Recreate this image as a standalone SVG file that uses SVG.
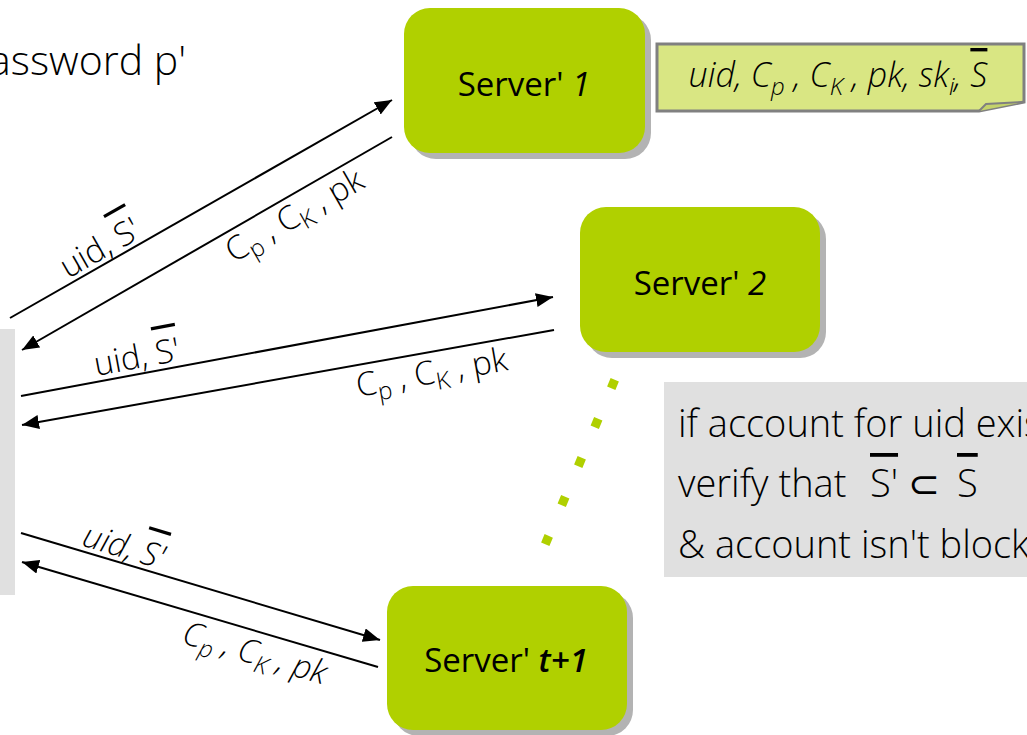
<svg xmlns="http://www.w3.org/2000/svg" width="1027" height="735" viewBox="0 0 1027 735">
<style>
.srv{fill:#b0d000}
.shd{fill:#b3b3b3}
.st{font-family:"Open Sans","Liberation Sans",sans-serif;font-size:33px;fill:#000;text-anchor:middle}
.lt{font-family:"Open Sans","Liberation Sans",sans-serif;font-weight:300;fill:#000}
.lbl{font-family:"Open Sans","Liberation Sans",sans-serif;font-weight:300;font-size:33px;fill:#000;text-anchor:middle}
.it{font-style:italic}
.ol{text-decoration:overline}
.ln{stroke:#000;stroke-width:2;fill:none;marker-end:url(#ah)}
</style>
<defs>
<marker id="ah" markerUnits="userSpaceOnUse" markerWidth="18" markerHeight="14" refX="17" refY="7" orient="auto">
<path d="M0,0 L17,7 L0,14 z" fill="#000"/>
</marker>
</defs>
<rect width="1027" height="735" fill="#fff"/>

<g id="client">
<rect x="0" y="329" width="15" height="266" fill="#e0e0e0"/>
<text class="lt" x="186" y="75" font-size="41" text-anchor="end">password p'</text>
</g>

<g id="server1">
<rect class="shd" x="410" y="14" width="241" height="145" rx="26"/>
<rect class="srv" x="404" y="8" width="241" height="145" rx="26"/>
<text class="st" x="524" y="96">Server' <tspan class="it">1</tspan></text>
</g>

<g id="note">
<path d="M657,44 H1024 V102 L979,111 H657 Z" fill="#d9e683" stroke="#808080" stroke-width="3"/>
<path d="M979,111 L986,104 L1024,102" fill="#c4d36a" stroke="#808080" stroke-width="2"/>
<text class="lt it" x="838" y="87" font-size="34" text-anchor="middle" font-weight="400">uid, C<tspan font-size="24" dy="8">p</tspan><tspan dy="-8"> , C</tspan><tspan font-size="24" dy="8">K</tspan><tspan dy="-8"> , pk, sk</tspan><tspan font-size="24" dy="8">i</tspan><tspan dy="-8">, </tspan><tspan class="ol">S</tspan></text>
</g>

<g id="server2">
<rect class="shd" x="586" y="213" width="240" height="145" rx="26"/>
<rect class="srv" x="580" y="207" width="240" height="145" rx="26"/>
<text class="st" x="700" y="295">Server' <tspan class="it">2</tspan></text>
</g>

<g id="servert1">
<rect class="shd" x="393" y="592" width="240" height="144" rx="26"/>
<rect class="srv" x="387" y="586" width="240" height="144" rx="26"/>
<text class="st" x="506" y="672">Server' <tspan class="it" font-weight="600">t+1</tspan></text>
</g>

<g id="check">
<rect x="664" y="382" width="400" height="195" fill="#e0e0e0"/>
<text class="lt" x="678" y="437" font-size="38">if account for uid exists</text>
<text class="lt" x="678" y="497" font-size="38">verify that<tspan x="870" class="ol">S'</tspan><tspan x="908">⊂</tspan><tspan x="957" class="ol">S</tspan></text>
<text class="lt" x="678" y="558" font-size="38">&amp; account isn't blocked</text>
</g>

<g id="dots">
<line x1="614.75" y1="379.86" x2="545.25" y2="544.14" stroke="#b0d000" stroke-width="9" stroke-dasharray="9 33.35"/>
</g>

<g id="connectors">
<line class="ln" x1="10" y1="318" x2="392" y2="100"/>
<line class="ln" x1="392" y1="137" x2="22" y2="350"/>
<line class="ln" x1="21" y1="396" x2="553" y2="297"/>
<line class="ln" x1="554" y1="330" x2="22" y2="425"/>
<line class="ln" x1="21" y1="533" x2="380" y2="640"/>
<line class="ln" x1="378" y1="667" x2="22" y2="562"/>
</g>

<g id="labels">
<g transform="translate(108,262) rotate(-29.7)">
<text class="lbl" x="0" y="-5">uid, <tspan class="ol">S'</tspan></text>
</g>
<g transform="translate(285,199) rotate(-29.9)">
<text class="lbl" x="0" y="30">C<tspan font-size="24" dy="7">p</tspan><tspan dy="-7"> , C</tspan><tspan font-size="24" dy="7">K</tspan><tspan dy="-7"> , pk</tspan></text>
</g>
<g transform="translate(140,374) rotate(-10.5)">
<text class="lbl" x="0" y="-6">uid, <tspan class="ol">S'</tspan></text>
</g>
<g transform="translate(428,352) rotate(-10.1)">
<text class="lbl" x="0" y="32">C<tspan font-size="24" dy="7">p</tspan><tspan dy="-7"> , C</tspan><tspan font-size="24" dy="7">K</tspan><tspan dy="-7"> , pk</tspan></text>
</g>
<g transform="translate(119,563) rotate(16.6)">
<text class="lbl it" x="0" y="-6">uid, <tspan class="ol">S'</tspan></text>
</g>
<g transform="translate(261,632) rotate(16.4)">
<text class="lbl it" x="0" y="33">C<tspan font-size="24" dy="7">p</tspan><tspan dy="-7"> , C</tspan><tspan font-size="24" dy="7">K</tspan><tspan dy="-7"> , pk</tspan></text>
</g>
</g>
</svg>
